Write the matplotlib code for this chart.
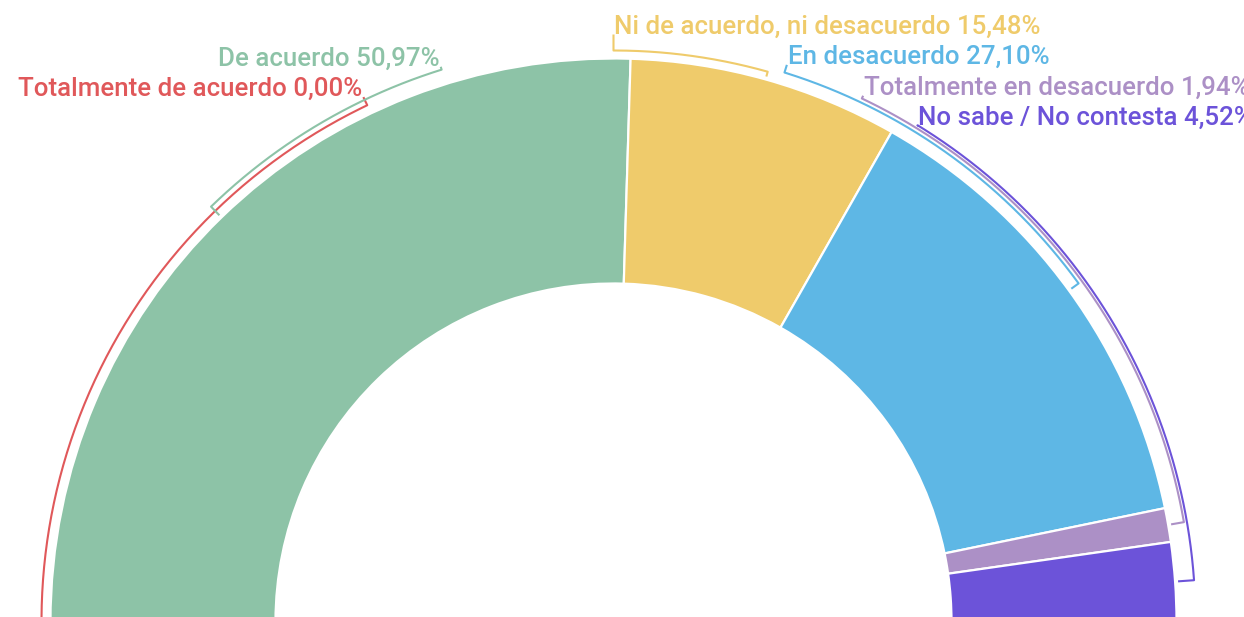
import numpy as np
import matplotlib.pyplot as plt

categorias = ['Totalmente de acuerdo', 'De acuerdo', 'Ni de acuerdo, ni desacuerdo',
              'En desacuerdo', 'Totalmente en desacuerdo', 'No sabe / No contesta']
porcentajes = [0.00, 50.97, 15.48, 27.10, 1.94, 4.52]
etiquetas = ['0,00%', '50,97%', '15,48%', '27,10%', '1,94%', '4,52%']
colores = ['#e0585a', '#8dc3a7', '#efcb6b', '#5eb7e5', '#ac90c6', '#6c53d9']

# layout of the leader brackets (angle of label end, arc radius, tick top radius, side)
ang_etiqueta = [115.5, 107.3, 90.0, 72.7, 64.6, 58.5]
r_guia = [572, 578, 571, 575, 579, 582]
r_tope = [581, 581, 587, 583, 582, 581]
lado = ['right', 'right', 'left', 'left', 'left', 'left']

plt.rcParams['font.family'] = ['Roboto', 'DejaVu Sans']

W, H = 1244, 617
fig = plt.figure(figsize=(W / 100, H / 100), dpi=100)
ax = fig.add_axes([0, 0, 1, 1])

cx, cy = 613.5, -4.5
R, ancho = 563, 225

wedges, _ = ax.pie(porcentajes + [100], startangle=180, counterclock=False,
                   radius=R, center=(cx, cy), colors=colores + ['white'],
                   wedgeprops=dict(width=ancho, edgecolor='white', linewidth=1.6),
                   frame=True)
wedges[-1].set_visible(False)

total = sum(porcentajes) * 2
acum = 0
for i, v in enumerate(porcentajes):
    mid = 180 - 360 * (acum + v / 2) / total
    acum += v
    r = r_guia[i]
    a0, a1 = np.radians(mid), np.radians(ang_etiqueta[i])
    t = np.linspace(a0, a1, 200)
    xs = [cx + 566 * np.cos(a0)] + list(cx + r * np.cos(t))
    ys = [cy + 566 * np.sin(a0)] + list(cy + r * np.sin(t))
    xt, yt = cx + r_tope[i] * np.cos(a1), cy + r_tope[i] * np.sin(a1)
    xs.append(xt)
    ys.append(yt)
    ax.plot(xs, ys, color=colores[i], lw=1.5, solid_capstyle='butt')
    dx = 1 if lado[i] == 'left' else -1
    ax.text(xt + dx, yt + 1, f'{categorias[i]} {etiquetas[i]}', color=colores[i],
            fontsize=18.6, fontweight='medium', ha=lado[i], va='baseline')

ax.set_xlim(0, W)
ax.set_ylim(0, H)
ax.set_aspect('equal')
ax.axis('off')

fig.savefig('out.png', dpi=100)
